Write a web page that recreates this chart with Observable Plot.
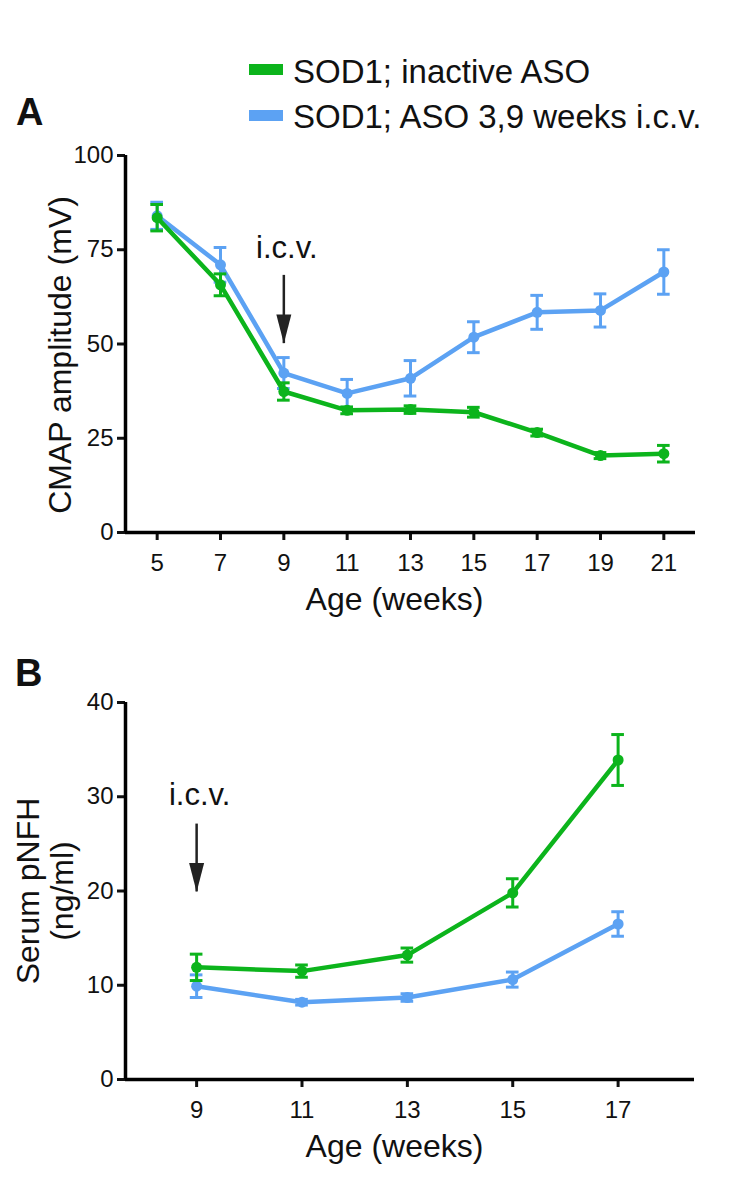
<!DOCTYPE html>
<html>
<head>
<meta charset="utf-8">
<script src="https://cdn.jsdelivr.net/npm/d3@7"></script>
<script src="https://cdn.jsdelivr.net/npm/@observablehq/plot@0.6"></script>
<style>
  html, body { margin: 0; padding: 0; background: #fff; }
  #page { position: relative; width: 748px; height: 1180px; font-family: "Liberation Sans", Arial, Helvetica, sans-serif; color: #111; }
  .abs { position: absolute; }
  .panel { font-weight: bold; font-size: 38px; line-height: 38px; }
  .leg { font-size: 33px; line-height: 33px; white-space: nowrap; }
  .sw { width: 34px; height: 11px; }
</style>
</head>
<body>
<div id="page"></div>
<script>
// ---- data ----
const seriesNames = ["SOD1; inactive ASO", "SOD1; ASO 3,9 weeks i.c.v."];
const seriesColors = ["#0cb41c", "#5ca2f3"];

const weeksA = [5, 7, 9, 11, 13, 15, 17, 19, 21];
const inactiveA = [83.5, 65.7, 37.4, 32.4, 32.6, 31.9, 26.5, 20.4, 20.9];
const inactiveAErr = [3.5, 2.9, 2.3, 0.9, 1.0, 1.3, 0.9, 0.8, 2.2];
const asoA = [84.0, 71.0, 42.3, 36.9, 40.9, 51.8, 58.4, 58.9, 69.1];
const asoAErr = [3.6, 4.6, 4.1, 3.7, 4.7, 4.1, 4.5, 4.4, 5.9];

const weeksB = [9, 11, 13, 15, 17];
const inactiveB = [11.9, 11.5, 13.2, 19.8, 33.9];
const inactiveBErr = [1.4, 0.65, 0.75, 1.5, 2.7];
const asoB = [9.9, 8.2, 8.7, 10.6, 16.5];
const asoBErr = [1.2, 0.3, 0.4, 0.8, 1.3];

const ticksA = [0, 25, 50, 75, 100];
const xTicksA = [5, 7, 9, 11, 13, 15, 17, 19, 21];
const ticksB = [0, 10, 20, 30, 40];
const xTicksB = [9, 11, 13, 15, 17];

const icvWeek = 9;
const icvA = {text: 72.7, start: 68.2, tip: 50.1};
const icvB = {text: 29.1, start: 27.1, tip: 19.9};

// ---- helpers ----
function rows(weeks, vals, errs, s) {
  return weeks.map((w, i) => ({week: w, value: vals[i], err: errs[i], series: seriesNames[s], color: seriesColors[s]}));
}
const headSymbol = {
  draw(ctx) { ctx.moveTo(0, 0); ctx.lineTo(-7.5, -29); ctx.lineTo(7.5, -29); ctx.closePath(); }
};

function seriesMarks(data, cap) {
  const c = data[0].color;
  return [
    Plot.ruleX(data, {x: "week", y1: d => d.value - d.err, y2: d => d.value + d.err, stroke: c, strokeWidth: 3}),
    Plot.ruleY(data, {y: d => d.value + d.err, x1: d => d.week - cap, x2: d => d.week + cap, stroke: c, strokeWidth: 3}),
    Plot.ruleY(data, {y: d => d.value - d.err, x1: d => d.week - cap, x2: d => d.week + cap, stroke: c, strokeWidth: 3}),
    Plot.line(data, {x: "week", y: "value", stroke: c, strokeWidth: 4.5, strokeLinejoin: "round"}),
    Plot.dot(data, {x: "week", y: "value", r: 5.5, fill: c, stroke: "none"})
  ];
}

function arrowMarks(a) {
  return [
    Plot.text([a], {x: () => icvWeek, y: "text", text: () => "i.c.v.", fontSize: 31, lineAnchor: "bottom", dx: 3, fill: "#111"}),
    Plot.ruleX([a], {x: () => icvWeek, y1: "start", y2: "tip", stroke: "#222", strokeWidth: 2.5}),
    Plot.dot([a], {x: () => icvWeek, y: "tip", symbol: headSymbol, fill: "#222", stroke: "none"})
  ];
}

const tickFont = 24;
const style = {fontFamily: '"Liberation Sans", Arial, Helvetica, sans-serif', fontSize: "16px", color: "#111", background: "white", overflow: "visible"};

function axes(xTicks, yTicks) {
  return [
    Plot.axisX({ticks: xTicks, tickSize: 8, strokeWidth: 3, label: null, tickFormat: () => ""}),
    Plot.axisY({ticks: yTicks, tickSize: 8, strokeWidth: 3, label: null, tickFormat: () => ""}),
    Plot.text(xTicks, {x: d => d, frameAnchor: "bottom", dy: 21, lineAnchor: "top", textAnchor: "middle", text: d => String(d), fontSize: tickFont, fill: "#111"}),
    Plot.text(yTicks, {y: d => d, frameAnchor: "left", dx: -12, lineAnchor: "middle", textAnchor: "end", text: d => String(d), fontSize: tickFont, fill: "#111"})
  ];
}

// ---- Panel A ----
const dataA0 = rows(weeksA, inactiveA, inactiveAErr, 0);
const dataA1 = rows(weeksA, asoA, asoAErr, 1);
const plotA = Plot.plot({
  width: 748, height: 500,
  marginTop: 15, marginBottom: 108, marginLeft: 125, marginRight: 53,
  style,
  x: {domain: [4, 22]},
  y: {domain: [0, 100]},
  marks: [
    ...axes(xTicksA, ticksA),
    Plot.ruleY([0], {stroke: "#000", strokeWidth: 3.5}),
    Plot.ruleX([4], {stroke: "#000", strokeWidth: 3.5}),
    ...seriesMarks(dataA1, 0.2),
    ...seriesMarks(dataA0, 0.2),
    ...arrowMarks(icvA),
    Plot.text(["Age (weeks)"], {frameAnchor: "bottom", dy: 77, dx: -16, fontSize: 32, lineAnchor: "bottom", textAnchor: "middle", fill: "#111"}),
    Plot.text(["CMAP amplitude (mV)"], {frameAnchor: "left", rotate: -90, dx: -55, dy: 11, fontSize: 32, lineAnchor: "bottom", textAnchor: "middle", fill: "#111"})
  ]
});

// ---- Panel B ----
const dataB0 = rows(weeksB, inactiveB, inactiveBErr, 0);
const dataB1 = rows(weeksB, asoB, asoBErr, 1);
const plotB = Plot.plot({
  width: 748, height: 540,
  marginTop: 62, marginBottom: 101, marginLeft: 125, marginRight: 54,
  style,
  x: {domain: [7.65, 18.45]},
  y: {domain: [0, 40]},
  marks: [
    ...axes(xTicksB, ticksB),
    Plot.ruleY([0], {stroke: "#000", strokeWidth: 3.5}),
    Plot.ruleX([7.65], {stroke: "#000", strokeWidth: 3.5}),
    ...seriesMarks(dataB1, 0.12),
    ...seriesMarks(dataB0, 0.12),
    ...arrowMarks(icvB),
    Plot.text(["Age (weeks)"], {frameAnchor: "bottom", dy: 77, dx: -15.5, fontSize: 32, lineAnchor: "bottom", textAnchor: "middle", fill: "#111"}),
    Plot.text(["Serum pNFH"], {frameAnchor: "left", rotate: -90, dx: -87, dy: 0, fontSize: 32, lineAnchor: "bottom", textAnchor: "middle", fill: "#111"}),
    Plot.text(["(ng/ml)"], {frameAnchor: "left", rotate: -90, dx: -53, dy: 0, fontSize: 32, lineAnchor: "bottom", textAnchor: "middle", fill: "#111"})
  ]
});

// ---- assemble ----
const page = document.getElementById("page");
function place(el, left, top) { el.classList.add("abs"); el.style.left = left + "px"; el.style.top = top + "px"; page.appendChild(el); return el; }
function div(cls, text) { const d = document.createElement("div"); d.className = cls; if (text) d.textContent = text; return d; }

place(plotA, 0, 140);
place(plotB, 0, 640);

// legend
const sw0 = place(div("sw"), 249, 64); sw0.style.background = seriesColors[0];
const sw1 = place(div("sw"), 249, 110); sw1.style.background = seriesColors[1];
place(div("leg", seriesNames[0]), 293, 55);
place(div("leg", seriesNames[1]), 293, 100);

// panel letters
place(div("panel", "A"), 16, 93);
place(div("panel", "B"), 15, 654);
</script>
</body>
</html>
